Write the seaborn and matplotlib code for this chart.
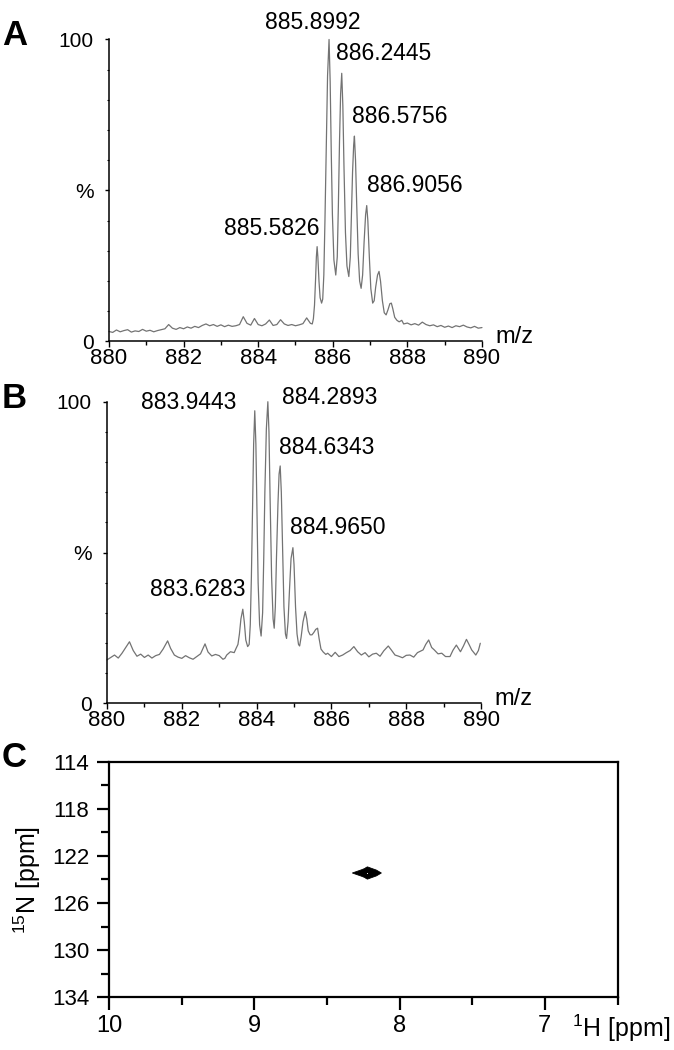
import matplotlib
matplotlib.use("Agg")
import matplotlib.pyplot as plt
from matplotlib.ticker import MultipleLocator
import pandas as pd
import seaborn as sns

# spectrum A (m/z, relative intensity %)
mz_a = [880.0, 880.1, 880.2, 880.3, 880.4, 880.5, 880.6, 880.7, 880.8, 880.9,
        881.0, 881.1, 881.2, 881.3, 881.4, 881.5, 881.6, 881.7, 881.8, 881.9,
        882.0, 882.1, 882.2, 882.3, 882.4, 882.5, 882.6, 882.7, 882.8, 882.9,
        883.0, 883.1, 883.2, 883.3, 883.4, 883.5, 883.6, 883.7, 883.8, 883.9,
        884.0, 884.1, 884.2, 884.3, 884.4, 884.5, 884.6, 884.7, 884.8, 884.9,
        885.0, 885.1, 885.2, 885.3, 885.4, 885.45, 885.48, 885.51, 885.54, 885.56,
        885.58, 885.6, 885.63, 885.66, 885.7, 885.73, 885.76, 885.79, 885.83, 885.86,
        885.9, 885.93, 885.96, 885.99, 886.03, 886.08, 886.12, 886.15, 886.18, 886.21,
        886.24, 886.27, 886.3, 886.34, 886.38, 886.43, 886.47, 886.5, 886.53, 886.56,
        886.58, 886.61, 886.64, 886.68, 886.72, 886.76, 886.8, 886.84, 886.88, 886.91,
        886.94, 886.98, 887.02, 887.07, 887.11, 887.15, 887.2, 887.24, 887.28, 887.33,
        887.38, 887.43, 887.48, 887.53, 887.57, 887.61, 887.66, 887.72, 887.78, 887.85,
        887.9, 888.0, 888.1, 888.2, 888.3, 888.4, 888.5, 888.6, 888.7, 888.8,
        888.9, 889.0, 889.1, 889.2, 889.3, 889.4, 889.5, 889.6, 889.7, 889.8,
        889.9, 890.0]
int_a = [3.3, 3.0, 3.8, 3.2, 3.6, 3.9, 3.1, 3.5, 3.3, 4.0,
         3.4, 3.7, 3.2, 3.6, 3.9, 4.2, 5.6, 4.4, 4.0, 4.6,
         4.2, 4.8, 4.4, 5.0, 4.6, 5.3, 5.8, 5.2, 5.6, 5.0,
         5.5, 4.9, 5.4, 5.0, 5.2, 5.6, 8.2, 6.0, 5.4, 7.6,
         5.6, 5.2, 5.8, 7.1, 5.3, 5.6, 7.2, 5.8, 5.3, 5.6,
         5.2, 5.5, 5.9, 7.8, 6.0, 5.8, 7.5, 12.0, 21.0, 28.0,
         31.4, 28.0, 20.0, 14.5, 12.7, 14.0, 22.0, 40.0, 68.0, 88.0,
         100.0, 86.0, 62.0, 42.0, 27.0, 22.0, 28.0, 45.0, 66.0, 82.0,
         88.8, 78.0, 58.0, 36.0, 25.0, 21.5, 28.0, 42.0, 56.0, 65.0,
         68.0, 60.0, 46.0, 29.0, 20.0, 17.6, 22.0, 33.0, 42.0, 45.0,
         40.0, 28.0, 17.5, 12.7, 13.5, 18.0, 22.0, 23.2, 20.0, 13.5,
         9.5, 8.8, 10.5, 12.5, 12.7, 10.8, 8.0, 7.0, 6.5, 7.0,
         5.8, 6.1, 5.5, 5.9, 5.4, 6.4, 5.6, 5.2, 5.5, 4.9,
         5.3, 4.7, 5.1, 4.6, 5.2, 4.9, 5.4, 4.8, 4.5, 5.0,
         4.4, 4.6]
peaks_a_mz = [885.5826, 885.8992, 886.2445, 886.5756, 886.9056]
peaks_a_int = [31.4, 100.0, 88.8, 68.0, 45.0]

# spectrum B
mz_b = [880.0, 880.1, 880.2, 880.3, 880.4, 880.5, 880.6, 880.7, 880.8, 880.9,
        881.0, 881.1, 881.2, 881.3, 881.4, 881.5, 881.62, 881.7, 881.8, 881.9,
        882.0, 882.1, 882.2, 882.3, 882.4, 882.5, 882.62, 882.7, 882.8, 882.9,
        883.0, 883.1, 883.15, 883.2, 883.3, 883.4, 883.45, 883.5, 883.54, 883.58,
        883.63, 883.67, 883.71, 883.76, 883.8, 883.83, 883.86, 883.89, 883.92, 883.95,
        883.98, 884.01, 884.04, 884.08, 884.12, 884.16, 884.19, 884.22, 884.26, 884.3,
        884.33, 884.36, 884.4, 884.44, 884.47, 884.5, 884.53, 884.57, 884.6, 884.63,
        884.66, 884.7, 884.73, 884.77, 884.8, 884.84, 884.88, 884.92, 884.97, 885.0,
        885.04, 885.08, 885.12, 885.15, 885.19, 885.24, 885.3, 885.34, 885.38, 885.43,
        885.48, 885.53, 885.58, 885.63, 885.67, 885.72, 885.78, 885.85, 885.9, 886.0,
        886.1, 886.2, 886.3, 886.4, 886.5, 886.6, 886.7, 886.8, 886.9, 887.0,
        887.1, 887.2, 887.3, 887.4, 887.52, 887.6, 887.7, 887.8, 887.9, 888.0,
        888.1, 888.2, 888.3, 888.45, 888.52, 888.6, 888.68, 888.75, 888.85, 888.95,
        889.05, 889.17, 889.25, 889.34, 889.45, 889.53, 889.61, 889.68, 889.75, 889.86,
        889.93, 889.98]
int_b = [14.4, 15.2, 16.0, 15.0, 16.6, 18.5, 20.4, 17.5, 15.6, 16.3,
         15.2, 16.0, 15.0, 15.8, 16.2, 18.0, 20.7, 18.2, 16.0, 15.3,
         14.9, 15.8, 15.1, 14.6, 15.5, 16.4, 19.7, 17.0, 15.7, 16.2,
         15.8, 14.6, 14.9, 16.0, 17.1, 16.8, 18.2, 19.5, 23.0, 28.0,
         31.2, 27.0, 21.0, 18.8, 19.5, 26.0, 42.0, 65.0, 86.0, 97.0,
         86.0, 62.0, 40.0, 26.0, 22.3, 30.0, 48.0, 70.0, 91.0, 100.0,
         90.0, 68.0, 42.0, 28.0, 24.9, 32.0, 48.0, 66.0, 76.0, 78.7,
         70.0, 48.0, 32.0, 23.0, 21.5, 27.0, 38.0, 48.0, 51.6, 46.0,
         32.0, 23.0, 19.5, 19.0, 22.0, 27.0, 30.4, 28.0, 24.0, 22.7,
         22.7, 23.5, 24.5, 24.9, 21.5, 18.0, 17.0, 16.2, 16.6, 15.5,
         16.9, 15.5, 16.0, 16.8, 17.5, 18.8, 17.1, 16.0, 16.8, 15.4,
         16.3, 16.6, 15.6, 17.4, 19.0, 17.7, 16.0, 15.6, 15.1, 15.9,
         16.0, 15.3, 16.8, 17.7, 19.5, 21.0, 18.5, 17.7, 16.4, 16.6,
         15.5, 15.5, 17.6, 19.3, 17.1, 19.0, 21.2, 19.5, 17.7, 16.0,
         17.5, 19.9]
peaks_b_mz = [883.6283, 883.9443, 884.2893, 884.6343, 884.9650]
peaks_b_int = [31.2, 97.0, 100.0, 78.7, 51.6]

# HSQC cross peak outline (1H ppm, 15N ppm)
hsqc_h = [8.325, 8.29, 8.26, 8.24, 8.228, 8.22, 8.212, 8.19, 8.16, 8.125,
          8.16, 8.19, 8.212, 8.22, 8.228, 8.24, 8.26, 8.29]
hsqc_n = [123.45, 123.3, 123.17, 123.07, 122.97, 122.93, 122.97, 123.07, 123.2, 123.45,
          123.7, 123.83, 123.93, 123.97, 123.93, 123.83, 123.73, 123.6]
hsqc_center = (8.224, 123.45)

sns.set_style("ticks")
plt.rcParams['font.family'] = ['Liberation Sans', 'DejaVu Sans']
plt.rcParams['mathtext.fontset'] = 'custom'
plt.rcParams['mathtext.rm'] = 'Liberation Sans'
plt.rcParams['mathtext.it'] = 'Liberation Sans:italic'
for key in ['text.color', 'axes.labelcolor', 'xtick.color', 'ytick.color', 'axes.edgecolor']:
    plt.rcParams[key] = 'black'
narrow = ['Liberation Sans Narrow', 'Liberation Sans', 'DejaVu Sans']


def draw_spectrum(ax, mz, inten, peaks_mz, peaks_int, offsets):
    """draw one ESI spectrum panel"""
    df = pd.DataFrame({'mz': mz, 'intensity': inten})
    sns.lineplot(data=df, x='mz', y='intensity', ax=ax, color='#737373',
                 linewidth=0.9, sort=False, estimator=None)
    ax.lines[0].set_clip_on(False)
    ax.set_xlim(880, 890)
    ax.set_ylim(0, 100)
    sns.despine(ax=ax)
    for sp in ['left', 'bottom']:
        ax.spines[sp].set_linewidth(1.1)
    ax.set_xticks([880, 882, 884, 886, 888, 890])
    ax.xaxis.set_minor_locator(MultipleLocator(1))
    ax.set_yticks([0, 50, 100])
    ax.set_yticklabels(['0', '%', '100'])
    ax.yaxis.set_minor_locator(MultipleLocator(10))
    ax.tick_params(axis='x', which='major', length=4, width=1, labelsize=16, pad=1)
    ax.tick_params(axis='x', which='minor', length=3, width=1)
    ax.tick_params(axis='y', which='major', length=3, width=1, labelsize=15, pad=8)
    ax.tick_params(axis='y', which='minor', length=1.5, width=0.8)
    ax.set_ylabel('')
    ax.set_xlabel('m/z', fontsize=17, va='baseline')
    ax.xaxis.set_label_coords(1.086, -0.005)
    #peak labels
    for m, h, off in zip(peaks_mz, peaks_int, offsets):
        ax.annotate(f'{m:.4f}', xy=(m, h), xytext=off, textcoords='offset points',
                    ha='center', va='center', fontsize=16.5, annotation_clip=False)


fig = plt.figure(figsize=(6.74, 10.5), dpi=100)
ax_a = fig.add_axes([0.1617, 0.6748, 0.5534, 0.2876])
ax_b = fig.add_axes([0.1588, 0.3302, 0.5549, 0.2872])
ax_c = fig.add_axes([0.1616, 0.0502, 0.7546, 0.2244])

draw_spectrum(ax_a, mz_a, int_a, peaks_a_mz, peaks_a_int,
              [(-33, 12.7), (-11.5, 12.2), (30, 14.6), (33, 14.4), (35, 14.1)])
draw_spectrum(ax_b, mz_b, int_b, peaks_b_mz, peaks_b_int,
              [(-32.2, 14.2), (-47.2, 5.9), (44.7, 3.4), (33.6, 13.6), (32.6, 14.2)])

# HSQC panel
ax_c.fill(hsqc_h, hsqc_n, color='black', linewidth=0.6, edgecolor='black')
ax_c.scatter([hsqc_center[0]], [hsqc_center[1]], s=0.6, color='white', linewidths=0, zorder=3)
ax_c.set_xlim(10, 6.5)
ax_c.set_ylim(134, 114)
ax_c.set_xticks([10, 9, 8, 7])
ax_c.xaxis.set_minor_locator(MultipleLocator(0.5))
ax_c.set_yticks([114, 118, 122, 126, 130, 134])
ax_c.yaxis.set_minor_locator(MultipleLocator(2))
for sp in ax_c.spines.values():
    sp.set_linewidth(1.6)
ax_c.tick_params(which='major', length=9, width=1.6, labelsize=17, pad=4)
ax_c.tick_params(which='minor', length=6, width=1.6)
ax_c.tick_params(axis='y', labelsize=16, pad=5)
for lab in ax_c.get_xticklabels() + ax_c.get_yticklabels():
    lab.set_family(narrow)
ax_c.set_xlabel(r'$^{1}$H [ppm]', fontsize=18, va='baseline', family=narrow)
ax_c.xaxis.set_label_coords(1.008, -0.1685)
ax_c.set_ylabel(r'$^{15}$N [ppm]', fontsize=18, family=narrow)
ax_c.yaxis.set_label_coords(-0.13, 0.5)

# panel letters
for y, letter in zip([0.957, 0.6114, 0.2695], ['A', 'B', 'C']):
    fig.text(0.003, y, letter, fontsize=25, fontweight='bold', va='baseline', ha='left')

fig.savefig('out.png', dpi=100, facecolor='white')
